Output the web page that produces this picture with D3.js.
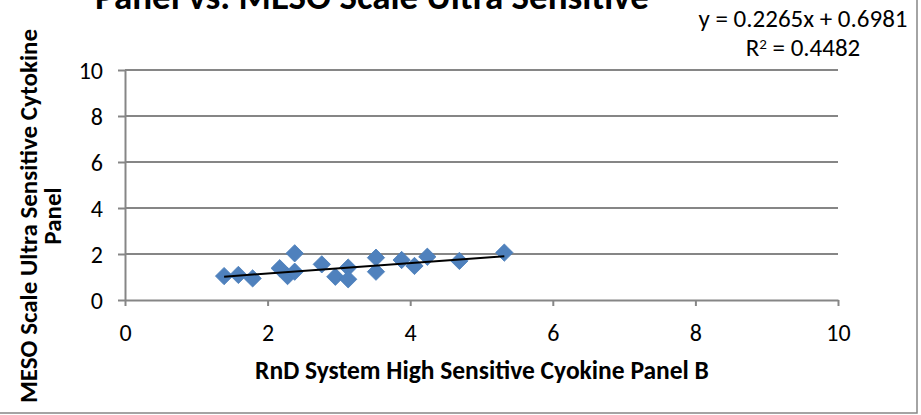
<!DOCTYPE html>
<html>
<head>
<meta charset="utf-8">
<script src="https://cdn.jsdelivr.net/npm/d3@7"></script>
<style>
  body { margin: 0; background: #fff; }
  svg { display: block; }
</style>
</head>
<body>
<div id="js_chart"></div>
<script>
// ---- data ----
var xValues = [1.39, 1.59, 1.79, 2.17, 2.28, 2.38, 2.38, 2.76, 2.95, 3.13, 3.13, 3.52, 3.52, 3.88, 4.06, 4.24, 4.69, 5.32];
var yValues = [1.04, 1.09, 0.94, 1.38, 1.04, 2.03, 1.23, 1.55, 1.01, 1.41, 0.90, 1.84, 1.23, 1.74, 1.48, 1.88, 1.70, 2.06];
var xTicks = [0, 2, 4, 6, 8, 10];
var yTicks = [0, 2, 4, 6, 8, 10];
var trendSlope = 0.2265;
var trendIntercept = 0.6981;
var equationLabel = "y = 0.2265x + 0.6981";
var rSquaredLabel = "0.4482";
var chartTitle = "Panel vs. MESO Scale Ultra Sensitive";
var xTitle = "RnD System High Sensitive Cyokine Panel B";
var yTitleLines = ["MESO Scale Ultra Sensitive Cytokine", "Panel"];

var width = 921, height = 415;
var plot = { left: 125, right: 838, top: 70, bottom: 300 };
var gridColor = "#868686";
var markerColor = "#4f81bd";
var labelFont = "Carlito, 'Liberation Sans', Arial, sans-serif";

var svg = d3.select("#js_chart").append("svg")
    .attr("width", width)
    .attr("height", height);

var x = d3.scaleLinear().domain([0, 10]).range([plot.left, plot.right]);
var y = d3.scaleLinear().domain([0, 10]).range([plot.bottom, plot.top]);

// outer chart border (right and bottom edges visible)
svg.append("path")
    .attr("d", "M917,0V413H0")
    .attr("fill", "none")
    .attr("stroke", gridColor)
    .attr("stroke-width", 1.5);

// horizontal gridlines
svg.append("g")
    .selectAll("line")
    .data(yTicks.filter(function(d) { return d > 0; }))
    .join("line")
    .attr("x1", plot.left).attr("x2", plot.right)
    .attr("y1", function(d) { return y(d); })
    .attr("y2", function(d) { return y(d); })
    .attr("stroke", gridColor)
    .attr("stroke-width", 2);

// y axis
var yAxis = svg.append("g")
    .attr("transform", "translate(" + plot.left + ",0)")
    .call(d3.axisLeft(y).tickValues(yTicks).tickSize(7).tickPadding(15).tickSizeOuter(0));

// x axis
var xAxis = svg.append("g")
    .attr("transform", "translate(0," + plot.bottom + ")")
    .call(d3.axisBottom(x).tickValues(xTicks).tickSize(6).tickPadding(18).tickSizeOuter(0));

[yAxis, xAxis].forEach(function(ax) {
    ax.select(".domain").attr("stroke", gridColor).attr("stroke-width", 2);
    ax.selectAll(".tick line").attr("stroke", gridColor).attr("stroke-width", 2);
    ax.selectAll(".tick text")
        .attr("fill", "#000")
        .style("font-family", labelFont)
        .style("font-size", "24px");
});
yAxis.selectAll(".tick text").attr("dy", "0.34em");

// markers
var points = xValues.map(function(v, i) { return { x: v, y: yValues[i] }; });
svg.append("g")
    .selectAll("path")
    .data(points)
    .join("path")
    .attr("d", d3.symbol().type(d3.symbolSquare).size(150))
    .attr("transform", function(d) {
        return "translate(" + x(d.x) + "," + y(d.y) + ") rotate(45)";
    })
    .attr("fill", markerColor)
    .attr("stroke", "#4a7ebb")
    .attr("stroke-width", 0.8);

// linear trendline
var xExtent = d3.extent(xValues);
svg.append("line")
    .attr("x1", x(xExtent[0]))
    .attr("y1", y(trendSlope * xExtent[0] + trendIntercept))
    .attr("x2", x(xExtent[1]))
    .attr("y2", y(trendSlope * xExtent[1] + trendIntercept))
    .attr("stroke", "#000")
    .attr("stroke-width", 2);

// trendline label
svg.append("text")
    .attr("x", 803).attr("y", 27)
    .attr("text-anchor", "middle")
    .style("font-family", labelFont)
    .style("font-size", "25px")
    .text(equationLabel);

var r2 = svg.append("text")
    .attr("x", 803).attr("y", 56)
    .attr("text-anchor", "middle")
    .style("font-family", labelFont)
    .style("font-size", "25px");
r2.append("tspan").text("R");
r2.append("tspan").attr("dy", -7).style("font-size", "15px").text("2");
r2.append("tspan").attr("dy", 7).text(" = " + rSquaredLabel);

// chart title (top of it runs off the canvas)
svg.append("text")
    .attr("x", 95).attr("y", 9)
    .style("font-family", labelFont)
    .style("font-weight", "bold")
    .style("font-size", "37px")
    .text(chartTitle);

// axis titles
svg.append("text")
    .attr("x", 482).attr("y", 379)
    .attr("text-anchor", "middle")
    .style("font-family", labelFont)
    .style("font-weight", "bold")
    .style("font-size", "25.5px")
    .text(xTitle);

svg.append("g")
    .attr("transform", "translate(0,216) rotate(-90)")
    .selectAll("text")
    .data(yTitleLines)
    .join("text")
    .attr("x", 0)
    .attr("y", function(d, i) { return 37 + i * 24; })
    .attr("text-anchor", "middle")
    .style("font-family", labelFont)
    .style("font-weight", "bold")
    .style("font-size", "25px")
    .text(function(d) { return d; });
</script>
</body>
</html>
